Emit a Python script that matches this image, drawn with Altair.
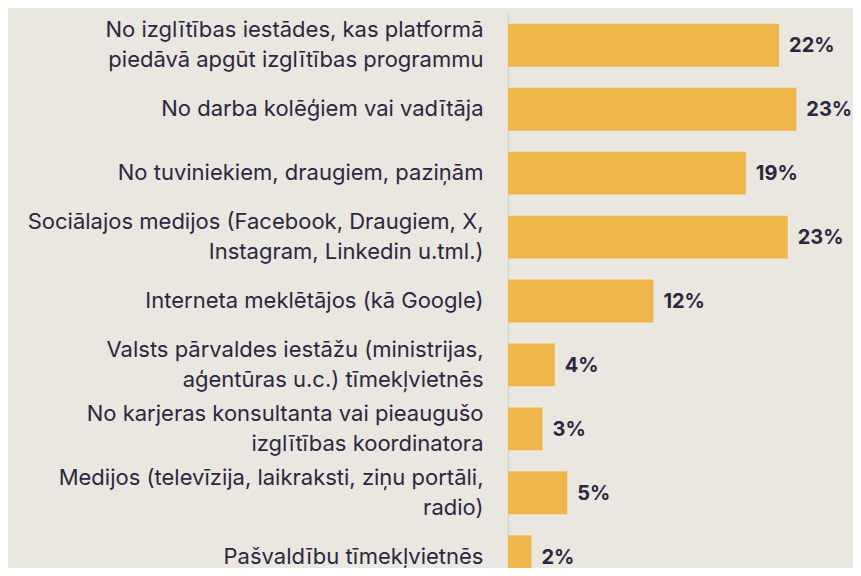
import altair as alt
import pandas as pd

categories = [
    "No izglītības iestādes, kas platformā\npiedāvā apgūt izglītības programmu",
    "No darba kolēģiem vai vadītāja",
    "No tuviniekiem, draugiem, paziņām",
    "Sociālajos medijos (Facebook, Draugiem, X,\nInstagram, Linkedin u.tml.)",
    "Interneta meklētājos (kā Google)",
    "Valsts pārvaldes iestāžu (ministrijas,\naģentūras u.c.) tīmekļvietnēs",
    "No karjeras konsultanta vai pieaugušo\nizglītības koordinatora",
    "Medijos (televīzija, laikraksti, ziņu portāli,\nradio)",
    "Pašvaldību tīmekļvietnēs",
]
values = [22.0, 23.4, 19.3, 22.7, 11.8, 3.8, 2.8, 4.8, 1.9]
labels = ["22%", "23%", "19%", "23%", "12%", "4%", "3%", "5%", "2%"]

df = pd.DataFrame({"cat": categories, "val": values, "lab": labels})

BG = "#EAE6E0"
BAR = "#EDB54A"
TXT = "#2D2640"
FONT = "Inter"

y_enc = alt.Y(
    "cat:N",
    sort=categories,
    scale=alt.Scale(range=[0, 576], paddingInner=0.33, paddingOuter=0.17),
    axis=alt.Axis(
        title=None,
        ticks=False,
        grid=False,
        domainColor="#D8D4CE",
        domainWidth=1.5,
        labelPadding=25,
        labelFontSize=22,
        labelFont=FONT,
        labelColor=TXT,
        labelLimit=0,
        labelLineHeight=30,
        labelOffset={
            "condition": {"test": "indexof(datum.value, '\\n') >= 0", "value": -15},
            "value": 0,
        },
        labelExpr="split(datum.label, '\\n')",
    ),
)
x_enc = alt.X("val:Q", scale=alt.Scale(domain=[0, 28]), axis=None)

bars = alt.Chart(df).mark_bar(color=BAR).encode(y=y_enc, x=x_enc)
text = alt.Chart(df).mark_text(
    align="left", baseline="middle", dx=10, dy=1,
    fontSize=20, fontWeight="bold", font=FONT, color=TXT
).encode(y=y_enc, x=x_enc, text="lab:N")

chart = (
    alt.layer(bars, text)
    .properties(
        width=345,
        height=555,
        background=BG,
        autosize=alt.AutoSizeParams(type="none"),
        padding={"left": 500, "top": 5, "right": 0, "bottom": 0},
    )
    .configure_view(stroke=None)
)

chart.save("out.html", embed_options={"renderer": "svg", "actions": False})
